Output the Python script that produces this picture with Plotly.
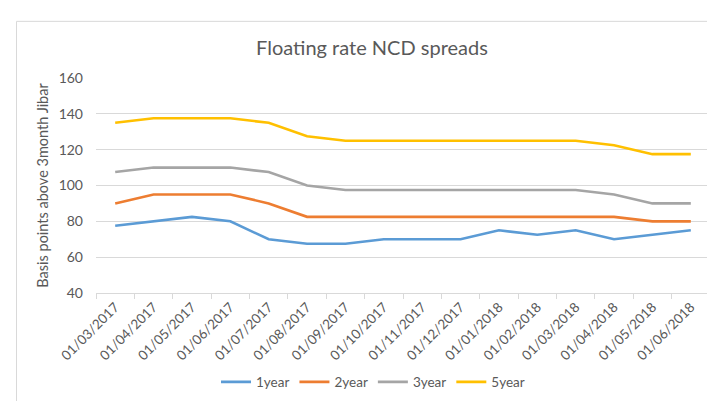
import plotly.graph_objects as go

dates = ["01/03/2017", "01/04/2017", "01/05/2017", "01/06/2017", "01/07/2017", "01/08/2017",
         "01/09/2017", "01/10/2017", "01/11/2017", "01/12/2017", "01/01/2018", "01/02/2018",
         "01/03/2018", "01/04/2018", "01/05/2018", "01/06/2018"]
one_year = [77.5, 80, 82.5, 80, 70, 67.5, 67.5, 70, 70, 70, 75, 72.5, 75, 70, 72.5, 75]
two_year = [90, 95, 95, 95, 90, 82.5, 82.5, 82.5, 82.5, 82.5, 82.5, 82.5, 82.5, 82.5, 80, 80]
three_year = [107.5, 110, 110, 110, 107.5, 100, 97.5, 97.5, 97.5, 97.5, 97.5, 97.5, 97.5, 95, 90, 90]
five_year = [135, 137.5, 137.5, 137.5, 135, 127.5, 125, 125, 125, 125, 125, 125, 125, 122.5, 117.5, 117.5]

series = [("1year", one_year, "#5B9BD5"), ("2year", two_year, "#ED7D31"),
          ("3year", three_year, "#A5A5A5"), ("5year", five_year, "#FFC000")]

W, H = 715, 401
ml, mr, mt, mb = 88, 13, 70, 109
pw, ph = W - ml - mr, H - mt - mb

FONT = "Lato"
TXT = "#595959"
GRID = "#D9D9D9"

fig = go.Figure()
for name, vals, col in series:
    fig.add_trace(go.Scatter(x=dates, y=vals, name=name, mode="lines",
                             line=dict(color=col, width=2.6)))

def px_x(p):
    return (p - ml) / pw

def px_y(p):
    return (H - mb - p) / ph

fig.add_shape(type="rect", xref="paper", yref="paper",
              x0=px_x(8.5), x1=px_x(730), y0=px_y(11.5), y1=px_y(420),
              line=dict(color=GRID, width=1), fillcolor="rgba(0,0,0,0)", layer="below")

fig.update_layout(
    width=W, height=H,
    margin=dict(l=ml, r=mr, t=mt, b=mb),
    paper_bgcolor="white", plot_bgcolor="white",
    font=dict(family=FONT, color=TXT, size=13),
    title=dict(text="Floating rate NCD spreads", x=364 / W, y=1 - 40 / H,
               xanchor="center", yanchor="middle",
               font=dict(family=FONT, size=20, color=TXT)),
    xaxis=dict(type="category", showgrid=False, showline=True, linecolor=GRID, linewidth=1,
               ticks="outside", tickson="boundaries", ticklen=5, tickcolor=GRID,
               tickangle=-45, tickfont=dict(size=13.5, color=TXT), range=[-0.5, 15.5]),
    yaxis=dict(range=[40, 160], dtick=20, showgrid=True, gridcolor=GRID, gridwidth=1,
               zeroline=False, showline=False, ticks="", ticklabelstandoff=12,
               tickfont=dict(size=14, color=TXT),
               title=dict(text="Basis points above 3month Jibar", standoff=6,
                          font=dict(size=14.5, color=TXT))),
    legend=dict(orientation="h", x=px_x(365), y=px_y(384), xanchor="center", yanchor="middle",
                font=dict(size=13.5, color=TXT), bgcolor="rgba(0,0,0,0)"),
    showlegend=True,
)

fig.write_html("out.html")
